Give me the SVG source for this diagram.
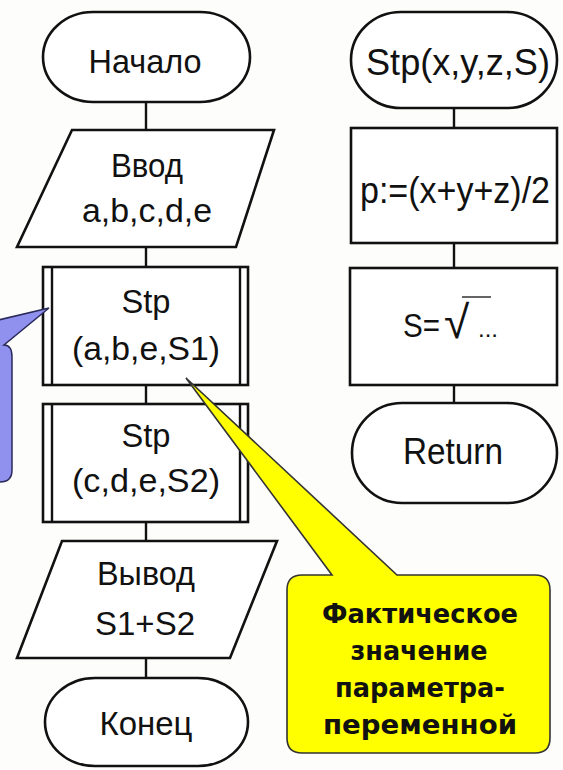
<svg xmlns="http://www.w3.org/2000/svg" width="563" height="770" viewBox="0 0 563 770">
<style>
.shp{fill:#fff;stroke:#111;stroke-width:2.6}
.ln{fill:none;stroke:#111;stroke-width:2.4}
.t{font-family:"Liberation Sans",Arial,sans-serif;font-size:34px;fill:#111;text-anchor:middle}
.tr{font-family:"Liberation Sans",Arial,sans-serif;font-size:36px;fill:#111;text-anchor:middle}
.ty{font-family:"DejaVu Sans",Verdana,sans-serif;font-size:27px;font-weight:bold;fill:#111;text-anchor:middle}
</style>
<rect width="563" height="770" fill="#fdfdfb"/>
<g id="connectors">
<line class="ln" x1="146" y1="102" x2="146" y2="130"/>
<line class="ln" x1="146" y1="247" x2="146" y2="267"/>
<line class="ln" x1="146" y1="385" x2="146" y2="404"/>
<line class="ln" x1="146" y1="522" x2="146" y2="541"/>
<line class="ln" x1="146" y1="658" x2="146" y2="678"/>
<line class="ln" x1="454" y1="108" x2="454" y2="128"/>
<line class="ln" x1="454" y1="243" x2="454" y2="268"/>
<line class="ln" x1="454" y1="385" x2="454" y2="403"/>
</g>
<g id="start">
<rect class="shp" x="43" y="12" width="207" height="90" rx="50" ry="45"/>
<text class="t" x="145" y="73" textLength="113" lengthAdjust="spacingAndGlyphs">Начало</text>
</g>
<g id="input">
<polygon class="shp" points="72,130 274,130 236,247 17,247"/>
<text class="t" x="147" y="177" textLength="72" lengthAdjust="spacingAndGlyphs">Ввод</text>
<text class="t" x="147" y="222" textLength="130" lengthAdjust="spacingAndGlyphs">a,b,c,d,e</text>
</g>
<g id="call1">
<rect class="shp" x="43" y="267" width="205" height="118"/>
<line class="ln" x1="52" y1="267" x2="52" y2="385"/>
<line class="ln" x1="240" y1="267" x2="240" y2="385"/>
<text class="t" x="146" y="313" textLength="49" lengthAdjust="spacingAndGlyphs">Stp</text>
<text class="t" x="146" y="360" textLength="148" lengthAdjust="spacingAndGlyphs">(a,b,e,S1)</text>
</g>
<g id="call2">
<rect class="shp" x="43" y="404" width="205" height="118"/>
<line class="ln" x1="52" y1="404" x2="52" y2="522"/>
<line class="ln" x1="240" y1="404" x2="240" y2="522"/>
<text class="t" x="146" y="447" textLength="49" lengthAdjust="spacingAndGlyphs">Stp</text>
<text class="t" x="146" y="492" textLength="148" lengthAdjust="spacingAndGlyphs">(c,d,e,S2)</text>
</g>
<g id="output">
<polygon class="shp" points="62,541 277,541 230,658 17,658"/>
<text class="t" x="146" y="585" textLength="98" lengthAdjust="spacingAndGlyphs">Вывод</text>
<text class="t" x="145" y="635" textLength="100" lengthAdjust="spacingAndGlyphs">S1+S2</text>
</g>
<g id="end">
<rect class="shp" x="45" y="678" width="203" height="88" rx="50" ry="44"/>
<text class="t" x="146" y="735" textLength="93" lengthAdjust="spacingAndGlyphs">Конец</text>
</g>
<g id="proc">
<rect class="shp" x="351" y="12" width="206" height="96" rx="50" ry="48"/>
<text class="tr" x="458" y="75" textLength="184" lengthAdjust="spacingAndGlyphs">Stp(x,y,z,S)</text>
</g>
<g id="assign">
<rect class="shp" x="351" y="128" width="206" height="115"/>
<text class="tr" x="455" y="203" textLength="190" lengthAdjust="spacingAndGlyphs">p:=(x+y+z)/2</text>
</g>
<g id="sqrt">
<rect class="shp" x="350" y="268" width="207" height="117"/>
<text class="t" x="403" y="337" style="text-anchor:start" textLength="37" lengthAdjust="spacingAndGlyphs">S=</text>
<text x="444" y="338" style="font-family:'Liberation Sans',Arial,sans-serif;font-size:46px;fill:#111">√</text>
<line x1="462" y1="297" x2="491" y2="297" stroke="#111" stroke-width="1.3"/>
<text x="478" y="337" style="font-family:'Liberation Sans',Arial,sans-serif;font-size:24px;fill:#111">...</text>
</g>
<g id="return">
<rect class="shp" x="352" y="403" width="205" height="100" rx="50" ry="50"/>
<text class="tr" x="453" y="464" textLength="100" lengthAdjust="spacingAndGlyphs">Return</text>
</g>
<g id="callout-blue">
<path d="M -10,322 L 49,308 L 4,345 Q 12,345 12,357 L 12,470 Q 12,482 0,482 L -10,482 Z" fill="#9090ee" stroke="#2a2a5a" stroke-width="1.5"/>
</g>
<g id="callout-yellow">
<path d="M 302,575 L 332,575 L 186,378 L 397,575 L 535,575 Q 550,575 550,590 L 550,738 Q 550,753 535,753 L 302,753 Q 287,753 287,738 L 287,590 Q 287,575 302,575 Z" fill="#ffff00" stroke="#333" stroke-width="1.6"/>
<text class="ty" x="420" y="623" textLength="196" lengthAdjust="spacingAndGlyphs">Фактическое</text>
<text class="ty" x="419" y="660" textLength="137" lengthAdjust="spacingAndGlyphs">значение</text>
<text class="ty" x="420" y="697" textLength="170" lengthAdjust="spacingAndGlyphs">параметра-</text>
<text class="ty" x="420" y="734" textLength="194" lengthAdjust="spacingAndGlyphs">переменной</text>
</g>
</svg>
